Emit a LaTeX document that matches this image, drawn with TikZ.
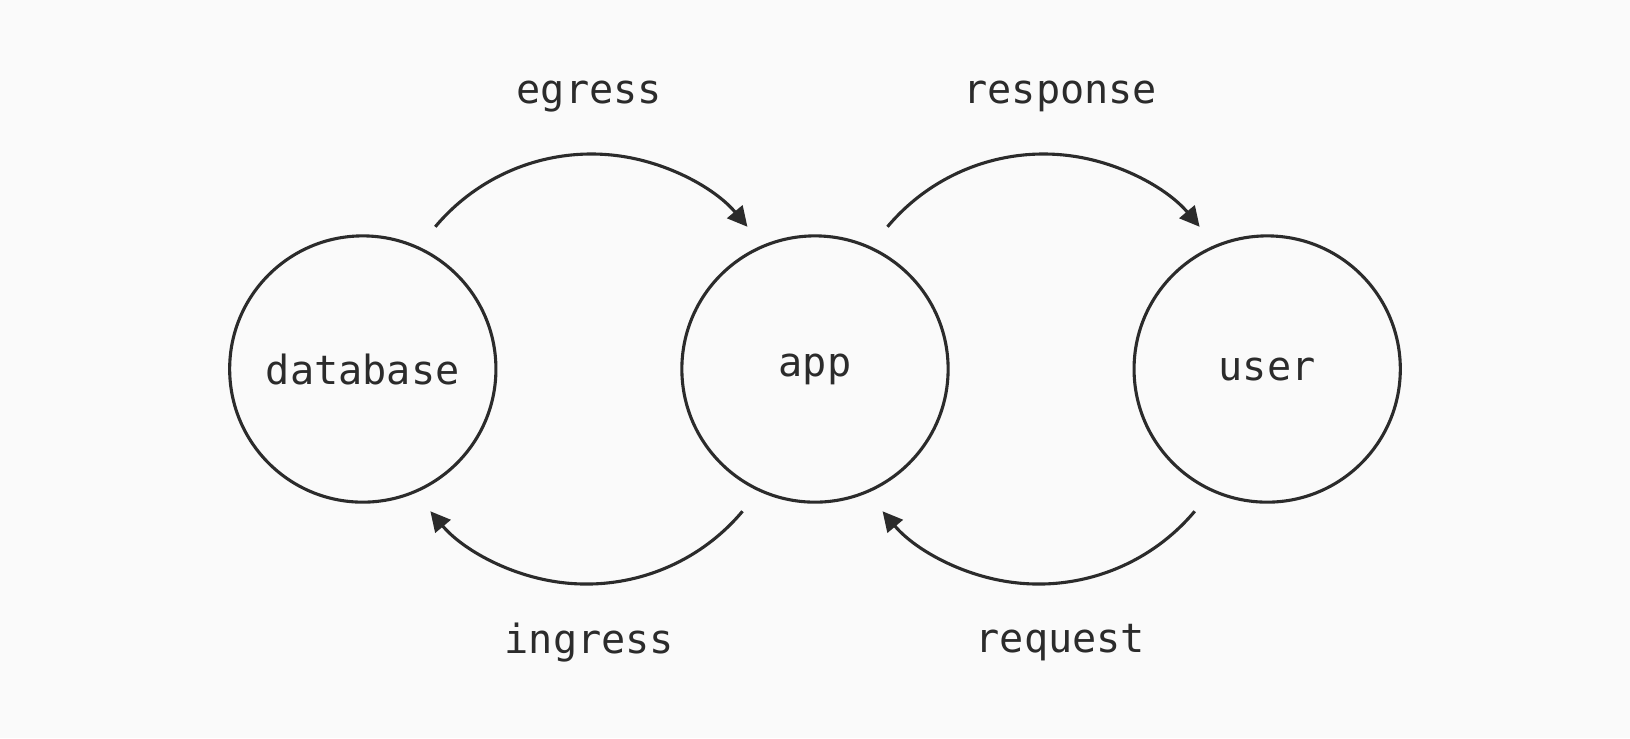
\documentclass[tikz,border=0pt]{standalone}
\usepackage{fontspec}
\setmonofont{DejaVu Sans Mono}
\usetikzlibrary{arrows.meta}
\definecolor{ink}{HTML}{2B2B2B}
\definecolor{paper}{HTML}{FAFAFA}
\tikzset{
  station/.style={circle,draw=ink,line width=0.85pt,minimum size=2.56cm,inner sep=0pt,
    font=\ttfamily\fontsize{11}{13}\selectfont,text=ink},
  flow/.style={draw=ink,line width=0.85pt,-{Triangle[length=0.19cm,width=0.19cm]}},
  tag/.style={font=\ttfamily\fontsize{11}{13}\selectfont,text=ink}
}
\begin{document}
\begin{tikzpicture}[x=0.01cm,y=0.01cm]
            \fill[paper] (0,0) rectangle (1568,-710);
            \useasboundingbox (0,0) rectangle (1568,-710);

            \node[station] (db) at (349,-355) {database};
            \node[station] (app) at (784,-355) {app};
            \node[station] (user) at (1219,-355) {user};

            \draw[flow] (db.63) ++(63:24) arc (140:40:196);
            \draw[flow] (app.63) ++(63:24) arc (140:40:196);
            \draw[flow] (app.-117) ++(-117:24) arc (-40:-140:196);
            \draw[flow] (user.-117) ++(-117:24) arc (-40:-140:196);

            \node[tag] (egress) at (567,-93) {egress};
            \node[tag] (response) at (1020,-93) {response};
            \node[tag] (ingress) at (567,-618) {ingress};
            \node[tag] (request) at (1020,-618) {request};
        \end{tikzpicture}
\end{document}
